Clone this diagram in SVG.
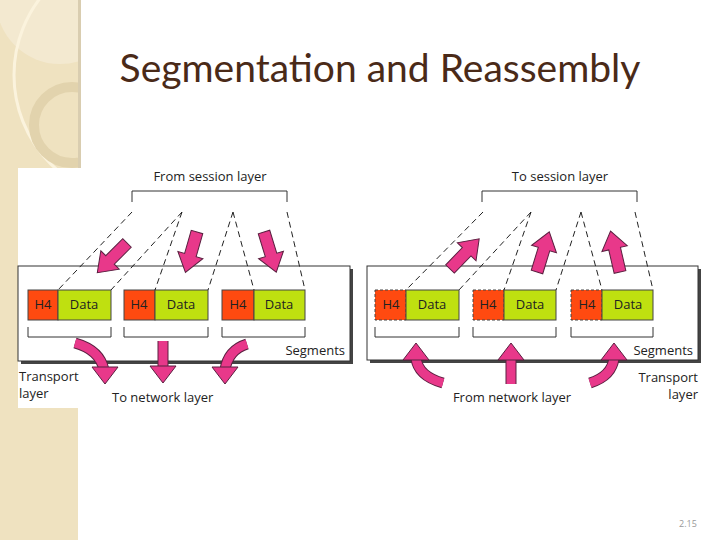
<svg xmlns="http://www.w3.org/2000/svg" xmlns:xlink="http://www.w3.org/1999/xlink" width="720" height="540" viewBox="0 0 720 540">
<style>
.t{font-family:"Open Sans","DejaVu Sans",sans-serif;font-size:13px;fill:#222}
.lbl{font-family:"Open Sans","DejaVu Sans",sans-serif;font-size:13px;fill:#222}
.h4{fill:#ff4a10;stroke:#444;stroke-width:1}
.h4d{fill:#ff4a10;stroke:#444;stroke-width:1;stroke-dasharray:3,2}
.data{fill:#bfe010;stroke:#444;stroke-width:1}
.dash{stroke:#222;stroke-width:1;stroke-dasharray:6,4;fill:none}
.br{stroke:#333;stroke-width:1;fill:none}
.ar{fill:#e8388a;stroke:#5a2040;stroke-width:1}
.cs{fill:none;stroke:#e8388a;stroke-width:9}
.co{fill:none;stroke:#5a2040;stroke-width:11}
</style>
<defs>
<path id="ba" d="M0,-6 L24,-6 L24,-13 L42,0 L24,13 L24,6 L0,6 Z"/>
<path id="hd" d="M-13,0 L13,0 L0,17 Z"/>
<clipPath id="strip"><rect x="0" y="0" width="78" height="540"/></clipPath>
</defs>
<rect width="720" height="540" fill="#fff"/>
<g id="bg" clip-path="url(#strip)">
<rect x="0" y="0" width="78" height="540" fill="#efe2c0"/>
<circle cx="60" cy="0" r="64" fill="#f3e9d0"/>
<circle cx="140" cy="75" r="126" fill="none" stroke="#fbf3dd" stroke-width="3"/>
<circle cx="72" cy="125" r="38" fill="none" stroke="#e2d3ad" stroke-width="10"/>
</g>
<rect x="78" y="0" width="3" height="168" fill="#d9cdb0"/>
<rect x="18" y="168" width="60" height="240" fill="#fff"/>
<text x="380" y="82" text-anchor="middle" font-family="Lato,'Open Sans',sans-serif" font-size="39" fill="#4a2a18">Segmentation and Reassembly</text>
<text x="688" y="527" text-anchor="middle" font-family="'Open Sans',sans-serif" font-size="9" fill="#999">2.15</text>

<g id="left-panel">
<rect x="21" y="269" width="332" height="95" fill="#444"/>
<rect x="18" y="266" width="332" height="95" fill="#fff" stroke="#333"/>
<text class="t" x="210" y="181" text-anchor="middle">From session layer</text>
<path class="br" d="M132,202 V191 H287 V202"/>
<text class="t" x="345" y="355" text-anchor="end">Segments</text>
<text class="t" x="19" y="381">Transport</text>
<text class="t" x="19" y="398">layer</text>
<text class="t" x="112" y="402">To network layer</text>
</g>
<g id="l-seg1"><rect class="h4" x="28" y="290" width="30" height="30"/><rect class="data" x="58" y="290" width="53" height="30"/><text class="lbl" x="43" y="309" text-anchor="middle">H4</text><text class="lbl" x="84" y="309" text-anchor="middle">Data</text><path class="br" d="M28,327 V337 H111 V327"/></g>
<g id="l-seg2"><rect class="h4" x="124" y="290" width="31" height="30"/><rect class="data" x="155" y="290" width="53" height="30"/><text class="lbl" x="139" y="309" text-anchor="middle">H4</text><text class="lbl" x="181" y="309" text-anchor="middle">Data</text><path class="br" d="M124,327 V337 H208 V327"/></g>
<g id="l-seg3"><rect class="h4" x="222" y="290" width="32" height="30"/><rect class="data" x="254" y="290" width="51" height="30"/><text class="lbl" x="238" y="309" text-anchor="middle">H4</text><text class="lbl" x="279" y="309" text-anchor="middle">Data</text><path class="br" d="M222,327 V337 H305 V327"/></g>

<g id="right-panel">
<rect x="370" y="269" width="331" height="94" fill="#444"/>
<rect x="367" y="266" width="331" height="94" fill="#fff" stroke="#333"/>
<text class="t" x="560" y="181" text-anchor="middle">To session layer</text>
<path class="br" d="M482,202 V191 H637 V202"/>
<text class="t" x="693" y="355" text-anchor="end">Segments</text>
<text class="t" x="698" y="382" text-anchor="end">Transport</text>
<text class="t" x="698" y="399" text-anchor="end">layer</text>
<text class="t" x="512" y="402" text-anchor="middle">From network layer</text>
</g>
<g id="r-seg1"><rect class="h4d" x="375" y="290" width="31" height="30"/><rect class="data" x="406" y="290" width="53" height="30"/><text class="lbl" x="391" y="309" text-anchor="middle">H4</text><text class="lbl" x="432" y="309" text-anchor="middle">Data</text><path class="br" d="M375,327 V337 H459 V327"/></g>
<g id="r-seg2"><rect class="h4d" x="473" y="290" width="31" height="30"/><rect class="data" x="504" y="290" width="52" height="30"/><text class="lbl" x="488" y="309" text-anchor="middle">H4</text><text class="lbl" x="530" y="309" text-anchor="middle">Data</text><path class="br" d="M473,327 V337 H556 V327"/></g>
<g id="r-seg3"><rect class="h4d" x="571" y="290" width="31" height="30"/><rect class="data" x="602" y="290" width="51" height="30"/><text class="lbl" x="587" y="309" text-anchor="middle">H4</text><text class="lbl" x="628" y="309" text-anchor="middle">Data</text><path class="br" d="M571,327 V337 H653 V327"/></g>

<g id="connectors">
<path class="dash" d="M132,212 L58,290 M182,212 L111,290 M182,212 L155,290 M233,212 L208,290 M233,212 L254,290 M287,212 L305,290"/>
<path class="dash" d="M483,212 L406,290 M531,212 L459,290 M531,212 L504,290 M581,212 L556,290 M581,212 L602,290 M635,212 L653,290"/>
<use href="#ba" class="ar" transform="translate(127,243) rotate(135)"/>
<use href="#ba" class="ar" transform="translate(197,232) rotate(106)"/>
<use href="#ba" class="ar" transform="translate(264,232) rotate(73)"/>
<use href="#ba" class="ar" transform="translate(450,269) rotate(-46)"/>
<use href="#ba" class="ar" transform="translate(537,272) rotate(-73)"/>
<use href="#ba" class="ar" transform="translate(620,272) rotate(-103)"/>
<path class="co" d="M75,343 Q100,350 104,370"/><path class="cs" d="M75,343 Q100,350 104,370"/>
<use href="#hd" class="ar" transform="translate(105,367)"/>
<path class="co" d="M163,341 V368"/><path class="cs" d="M163,341 V368"/>
<use href="#hd" class="ar" transform="translate(163,366)"/>
<path class="co" d="M247,344 Q228,350 225,370"/><path class="cs" d="M247,344 Q228,350 225,370"/>
<use href="#hd" class="ar" transform="translate(225,367)"/>
<path class="co" d="M443,383 Q418,376 416,358"/><path class="cs" d="M443,383 Q418,376 416,358"/>
<use href="#hd" class="ar" transform="translate(416,360) rotate(180)"/>
<path class="co" d="M511,384 V358"/><path class="cs" d="M511,384 V358"/>
<use href="#hd" class="ar" transform="translate(511,360) rotate(180)"/>
<path class="co" d="M590,383 Q612,376 614,358"/><path class="cs" d="M590,383 Q612,376 614,358"/>
<use href="#hd" class="ar" transform="translate(614,360) rotate(180)"/>
</g>
</svg>
